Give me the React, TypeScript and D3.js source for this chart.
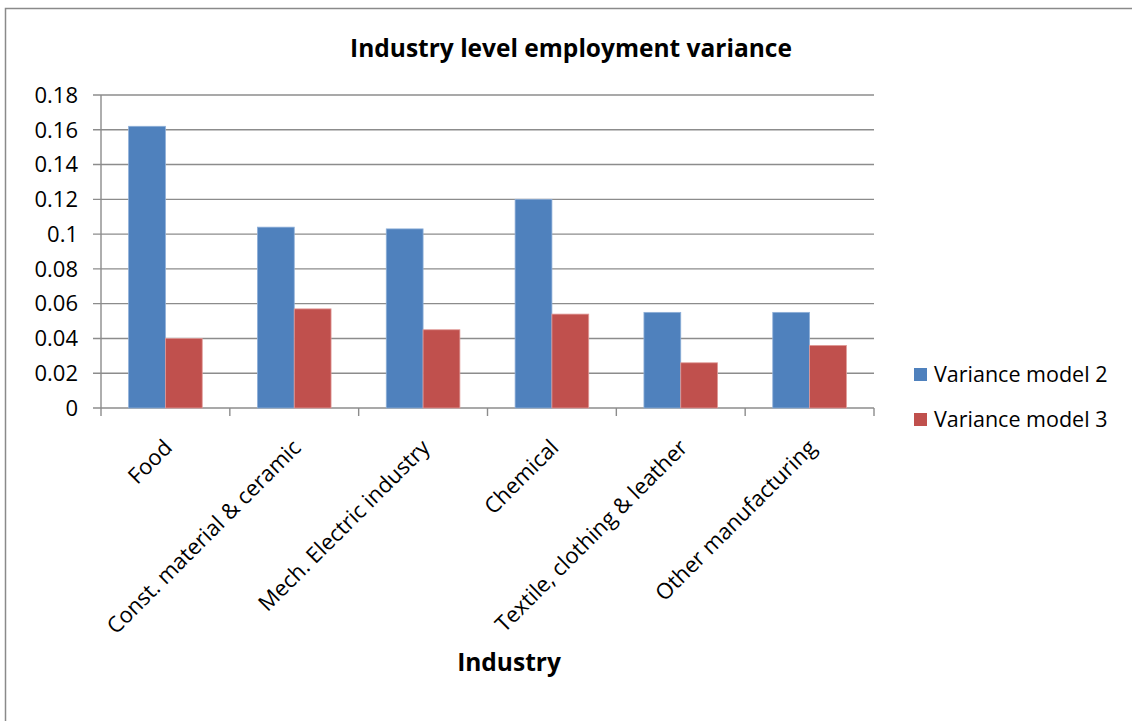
import React, { useEffect, useRef } from "react";
import * as d3 from "d3";

const categories = [
  "Food",
  "Const. material & ceramic",
  "Mech. Electric industry",
  "Chemical",
  "Textile, clothing & leather",
  "Other manufacturing",
];
const seriesNames = ["Variance model 2", "Variance model 3"];
const model2 = [0.162, 0.104, 0.103, 0.12, 0.055, 0.055];
const model3 = [0.04, 0.057, 0.045, 0.054, 0.026, 0.036];
const yTicks = [0, 0.02, 0.04, 0.06, 0.08, 0.1, 0.12, 0.14, 0.16, 0.18];
const colors = ["#4F81BD", "#C0504D"];
const outlines = ["#8EAFD8", "#E09A98"];

const W = 1132;
const H = 721;
const FONT = "'Open Sans', Lato, sans-serif";

export default function App() {
  const ref = useRef<SVGSVGElement | null>(null);

  useEffect(() => {
    document.body.style.margin = "0";
    const svg = d3.select(ref.current);
    svg.selectAll("*").remove();

    const left = 101;
    const right = 874;
    const top = 95;
    const bottom = 408;

    // outer chart frame
    svg
      .append("rect")
      .attr("x", 5.5)
      .attr("y", 8.5)
      .attr("width", W + 20)
      .attr("height", H + 20)
      .attr("fill", "#fff")
      .attr("stroke", "#8a8a8a")
      .attr("stroke-width", 1.5);

    const x = d3.scaleBand<string>().domain(categories).range([left, right]).paddingInner(0).paddingOuter(0);
    const y = d3.scaleLinear().domain([0, 0.18]).range([bottom, top]);

    const grid = svg.append("g");
    yTicks.forEach((t) => {
      grid
        .append("line")
        .attr("x1", left - 8)
        .attr("x2", right)
        .attr("y1", y(t))
        .attr("y2", y(t))
        .attr("stroke", "#8c8c8c")
        .attr("stroke-width", 1.4);
      grid
        .append("text")
        .attr("x", 78)
        .attr("y", y(t) + 7.8)
        .attr("text-anchor", "end")
        .attr("font-family", FONT)
        .attr("font-size", 22)
        .attr("fill", "#000")
        .text(String(t));
    });

    // y axis line
    svg
      .append("line")
      .attr("x1", left)
      .attr("x2", left)
      .attr("y1", top)
      .attr("y2", bottom + 8)
      .attr("stroke", "#8c8c8c")
      .attr("stroke-width", 1.4);

    // x tick marks at category boundaries
    const bounds = categories.map((c) => x(c) as number).concat([right]);
    bounds.forEach((b, i) => {
      if (i === 0) return;
      svg
        .append("line")
        .attr("x1", b)
        .attr("x2", b)
        .attr("y1", bottom)
        .attr("y2", bottom + 8)
        .attr("stroke", "#8c8c8c")
        .attr("stroke-width", 1.4);
    });

    // bars: gap width 150% of a bar
    const bw = x.bandwidth() / 3.5;
    const series = [model2, model3];
    series.forEach((vals, si) => {
      svg
        .append("g")
        .selectAll("rect")
        .data(vals)
        .join("rect")
        .attr("x", (_, i) => (x(categories[i]) as number) + bw * 0.75 + si * bw)
        .attr("y", (d) => y(d))
        .attr("width", bw)
        .attr("height", (d) => bottom - y(d))
        .attr("fill", colors[si])
        .attr("stroke", outlines[si])
        .attr("stroke-width", 0.8);
    });

    // rotated category labels
    categories.forEach((c) => {
      const cx = (x(c) as number) + x.bandwidth() / 2;
      svg
        .append("text")
        .attr("transform", `translate(${cx + 8},${449}) rotate(-45)`)
        .attr("text-anchor", "end")
        .attr("font-family", FONT)
        .attr("font-size", 22)
        .attr("fill", "#000")
        .text(c);
    });

    // title and axis title
    svg
      .append("text")
      .attr("x", 571)
      .attr("y", 57)
      .attr("text-anchor", "middle")
      .attr("font-family", FONT)
      .attr("font-weight", "bold")
      .attr("font-size", 24.5)
      .text("Industry level employment variance");

    svg
      .append("text")
      .attr("x", 509)
      .attr("y", 671)
      .attr("text-anchor", "middle")
      .attr("font-family", FONT)
      .attr("font-weight", "bold")
      .attr("font-size", 24.5)
      .text("Industry");

    // legend
    seriesNames.forEach((n, i) => {
      const ly = 368 + i * 45;
      svg
        .append("rect")
        .attr("x", 914)
        .attr("y", ly)
        .attr("width", 13)
        .attr("height", 13)
        .attr("fill", colors[i]);
      svg
        .append("text")
        .attr("x", 934)
        .attr("y", ly + 14)
        .attr("font-family", FONT)
        .attr("font-size", 21.5)
        .attr("fill", "#000")
        .text(n);
    });
  }, []);

  return (
    <svg
      ref={ref}
      width={W}
      height={H}
      style={{ position: "absolute", left: 0, top: 0, display: "block" }}
    />
  );
}
